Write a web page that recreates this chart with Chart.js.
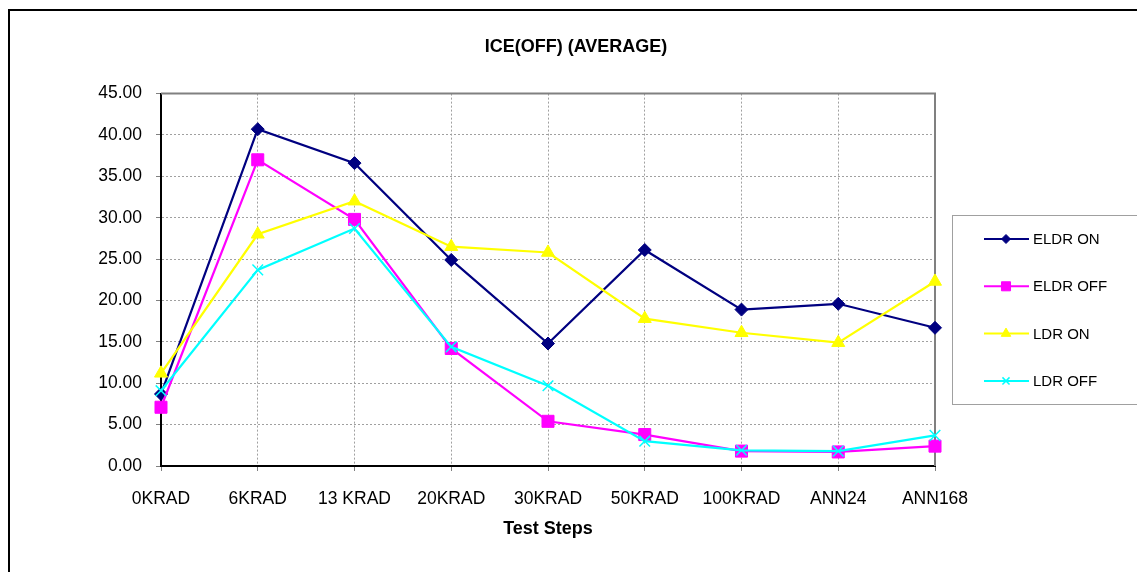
<!DOCTYPE html>
<html>
<head>
<meta charset="utf-8">
<script src="https://cdn.jsdelivr.net/npm/chart.js@4.4.1/dist/chart.umd.min.js"></script>
<style>
html, body { margin: 0; padding: 0; background: #fff; }
</style>
</head>
<body>
<canvas id="grafico" width="1137" height="572"></canvas>
<script>
// Dados do gráfico
const passos  = ["0KRAD", "6KRAD", "13 KRAD", "20KRAD", "30KRAD", "50KRAD", "100KRAD", "ANN24", "ANN168"];
const eldrOn  = [8.7, 40.7, 36.6, 24.9, 14.8, 26.1, 18.9, 19.6, 16.7];
const eldrOff = [7.1, 37.0, 29.8, 14.2, 5.4, 3.8, 1.8, 1.7, 2.4];
const ldrOn   = [11.2, 28.0, 32.0, 26.5, 25.8, 17.8, 16.1, 14.9, 22.3];
const ldrOff  = [9.1, 23.7, 28.7, 14.4, 9.7, 3.0, 1.9, 1.8, 3.7];
const yTicks  = [0, 5, 10, 15, 20, 25, 30, 35, 40, 45];

Chart.defaults.font.family = "'Liberation Sans', Arial, sans-serif";
Chart.defaults.color = "#000";

// tamanho dos marcadores na legenda
const raioLegenda = [4.5, 6.4, 5.5, 5];

// moldura externa
const moldura = {
    id: "moldura",
    beforeDraw(chart) {
        const ctx = chart.ctx;
        ctx.save();
        ctx.fillStyle = "#fff";
        ctx.fillRect(0, 0, chart.width, chart.height);
        ctx.strokeStyle = "#000";
        ctx.lineWidth = 2;
        ctx.beginPath();
        ctx.moveTo(9, chart.height + 2);
        ctx.lineTo(9, 10);
        ctx.lineTo(chart.width + 2, 10);
        ctx.stroke();
        ctx.restore();
    },
    beforeDatasetsDraw(chart) {
        // borda cinza de cima e da direita da área do gráfico
        const a = chart.chartArea;
        const ctx = chart.ctx;
        ctx.save();
        ctx.strokeStyle = "#808080";
        ctx.lineWidth = 2;
        ctx.beginPath();
        ctx.moveTo(a.left, a.top);
        ctx.lineTo(a.right, a.top);
        ctx.lineTo(a.right, a.bottom);
        ctx.stroke();
        ctx.restore();
    }
};

// legenda com caixa, linha e marcador
const legendaCaixa = {
    id: "legendaCaixa",
    afterDraw(chart) {
        const ctx = chart.ctx;
        const x0 = chart.chartArea.right + 17;
        const y0 = 215;
        ctx.save();
        ctx.strokeStyle = "#a0a0a0";
        ctx.lineWidth = 1;
        ctx.strokeRect(x0 + 0.5, y0 + 0.5, chart.width - x0 + 5, 189);
        chart.data.datasets.forEach((ds, i) => {
            const y = y0 + 24 + i * 47.3;
            ctx.strokeStyle = ds.borderColor;
            ctx.lineWidth = 2;
            ctx.beginPath();
            ctx.moveTo(x0 + 32, y);
            ctx.lineTo(x0 + 77, y);
            ctx.stroke();
            ctx.fillStyle = ds.backgroundColor;
            ctx.lineWidth = ds.pointBorderWidth || 1;
            Chart.helpers.drawPoint(ctx, {
                pointStyle: ds.pointStyle,
                radius: raioLegenda[i],
                rotation: 0,
                borderWidth: ds.pointBorderWidth || 1
            }, x0 + 54, y);
            ctx.fillStyle = "#000";
            ctx.font = "15px 'Liberation Sans', Arial, sans-serif";
            ctx.textBaseline = "middle";
            ctx.textAlign = "left";
            ctx.fillText(ds.label, x0 + 81, y + 1);
        });
        ctx.restore();
    }
};

function serie(label, dados, cor, estilo, raio, ordem, bw) {
    return {
        label: label,
        data: dados,
        borderColor: cor,
        backgroundColor: cor,
        pointBackgroundColor: cor,
        pointBorderColor: cor,
        pointStyle: estilo,
        pointRadius: raio,
        pointBorderWidth: bw,
        borderWidth: 2.2,
        tension: 0,
        clip: false,
        order: ordem
    };
}

const ctx = document.getElementById("grafico").getContext("2d");
const grafico = new Chart(ctx, {
    type: "line",
    data: {
        labels: passos,
        datasets: [
            serie("ELDR ON", eldrOn, "#000080", "rectRot", 6.5, 3, 1),
            serie("ELDR OFF", eldrOff, "#FF00FF", "rect", 8.5, 2, 1),
            serie("LDR ON", ldrOn, "#FFFF00", "triangle", 7.5, 1, 1),
            serie("LDR OFF", ldrOff, "#00FFFF", "crossRot", 7.5, 0, 1.5)
        ]
    },
    options: {
        responsive: false,
        animation: false,
        layout: { padding: { left: 15, right: 0, top: 0, bottom: 0 } },
        plugins: {
            legend: { display: false },
            tooltip: { enabled: false },
            title: {
                display: true,
                text: "ICE(OFF) (AVERAGE)",
                font: { size: 18, weight: "bold" },
                color: "#000",
                padding: { top: 36, bottom: 36 }
            }
        },
        scales: {
            x: {
                offset: false,
                grid: { color: "#a0a0a0", tickLength: 5, tickColor: "#808080" },
                border: { color: "#000", width: 2, dash: [2, 2] },
                ticks: { font: { size: 17.5 }, padding: 18, maxRotation: 0, autoSkip: false },
                title: {
                    display: true,
                    text: "Test Steps",
                    font: { size: 18, weight: "bold" },
                    padding: { top: 0, bottom: 32 }
                },
                afterFit: (s) => { s.height = 106; }
            },
            y: {
                min: 0,
                max: 45,
                grid: { color: "#a0a0a0", tickLength: 5, tickColor: "#808080" },
                border: { color: "#000", width: 2, dash: [2, 2] },
                ticks: { font: { size: 17.5 }, padding: 14, callback: (v) => v.toFixed(2) },
                afterBuildTicks: (s) => { s.ticks = yTicks.map((v) => ({ value: v })); },
                afterFit: (s) => { s.width = 146; }
            },
            lado: {
                position: "right",
                ticks: { display: false },
                grid: { display: false },
                border: { display: false },
                afterFit: (s) => { s.width = 202; }
            }
        }
    },
    plugins: [moldura, legendaCaixa]
});
</script>
</body>
</html>
